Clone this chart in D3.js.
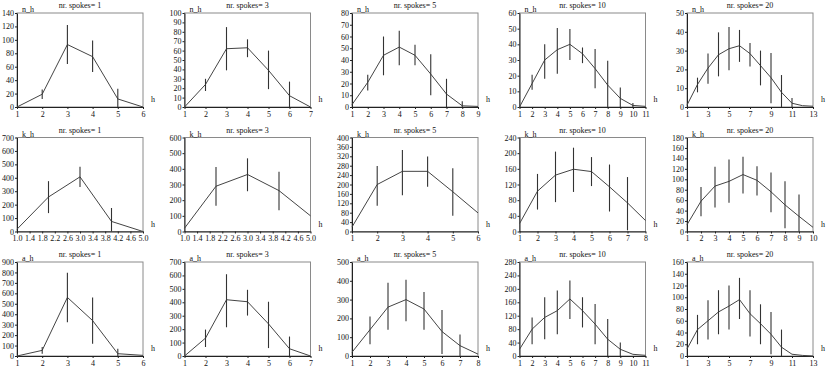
<!DOCTYPE html>
<html>
<head>
<meta charset="utf-8">
<script src="https://cdn.jsdelivr.net/npm/d3@7"></script>
<style>
  body { margin: 0; background: #fff; }
  text { font-family: "Liberation Serif", "DejaVu Serif", serif; }
</style>
</head>
<body>
<div id="chart"></div>
<script>
// panels: 3 variables (rows) x 5 spoke counts (columns)
const spokes = [1, 3, 5, 10, 20];
const varNames = ["n_h", "k_h", "a_h"];

// axis ranges per row / column
const yMaxes = [[140, 100, 80, 60, 50], [700, 600, 400, 240, 180], [900, 700, 500, 280, 160]];
const yTickSteps = [[20, 10, 10, 10, 10], [100, 100, 40, 40, 20], [100, 100, 100, 40, 20]];
const xMaxes = [[6, 7, 9, 11, 13], [5, 5, 6, 8, 10], [6, 7, 8, 11, 13]];
const xTickSteps = [[1, 1, 1, 1, 2], [0.4, 0.4, 1, 1, 1], [1, 1, 1, 1, 2]];

// mean values at h = 1, 2, 3 ...
const nMean = [
  [0, 19, 93, 75, 12, 0],
  [0, 24, 62, 63, 39, 12, 0],
  [2, 21, 44, 51, 44, 28, 11, 1, 0.5],
  [0, 15, 30, 36.6, 40, 34, 24.5, 14, 5.5, 1, 0.4],
  [1, 12, 20.7, 27.8, 31, 32.6, 28.4, 22, 15.6, 7.8, 2, 0.7, 0.4]
];
const nLo = [
  [null, 12, 64, 52, 0, null],
  [null, 17, 39, 53, 19, 0, null],
  [null, 14, 27, 35.5, 35.5, 10, 0, 0, null],
  [null, 11, 18, 21.3, 30, 28, 12, 0, 0, 0, null],
  [null, 7.8, 12.4, 16.3, 19.5, 24, 21.6, 11.5, 2, 0, 0, null, null]
];
const nHi = [
  [null, 26, 122, 99, 27, null],
  [null, 30, 85, 72, 60, 27, null],
  [null, 27.5, 60, 65, 53, 45, 24, 5, null],
  [null, 20.6, 40, 50.4, 49.8, 38, 37, 29.6, 12.5, 2.5, null],
  [null, 15.6, 28.4, 39.7, 42.5, 41, 34, 30, 28.7, 17, 4.8, null, null]
];

const kMean = [
  [17, 257, 407, 75, 0],
  [21, 289, 364, 261, 100],
  [19, 200, 256, 256, 169, 79],
  [20, 103, 144, 159, 153, 114, 73, 28],
  [13, 58, 87, 96, 109, 98, 76, 51, 29, 8]
];
const kLo = [
  [null, 137, 332, 0, null],
  [null, 165, 257, 135, null],
  [null, 110, 154, 190, 67, null],
  [null, 56, 75, 101, 116, 51, 3, null],
  [null, 29, 46, 55, 73, 69, 37, 6, 0, null]
];
const kHi = [
  [null, 375, 482, 175, null],
  [null, 411, 467, 381, null],
  [null, 279, 347, 319, 269, null],
  [null, 147, 204, 214, 190, 171, 139, null],
  [null, 85, 124, 138, 143, 125, 113, 96, 71, null]
];

const aMean = [
  [0, 54, 561, 339, 22, 6],
  [0, 133, 419, 404, 239, 54, 0],
  [20, 140, 260, 300, 250, 130, 55, 10],
  [20, 80, 115, 135, 170, 135, 95, 50, 20, 5, 2],
  [12, 45, 60, 75, 85, 96, 72, 55, 37, 15, 3, 1, 0]
];
const aLo = [
  [null, 22, 323, 117, 0, null],
  [null, 67, 214, 301, 59, 0, null],
  [null, 63, 140, 185, 140, 10, 0, null],
  [null, 35, 50, 65, 110, 85, 35, 0, 0, null, null],
  [null, 20, 28, 37, 45, 63, 33, 20, 3, 0, null, null, null]
];
const aHi = [
  [null, 85, 798, 561, 70, null],
  [null, 197, 609, 493, 404, 145, null],
  [null, 210, 390, 405, 340, 245, 115, null],
  [null, 115, 175, 195, 225, 175, 155, 110, 40, null, null],
  [null, 70, 95, 112, 120, 133, 112, 88, 75, 45, null, null, null]
];

const means = [nMean, kMean, aMean];
const lows = [nLo, kLo, aLo];
const highs = [nHi, kHi, aHi];

// layout
const width = 830, height = 370;
const colX0 = 17, colStep = 167.5, plotW = 126;
const rowY0 = 13, rowStep = 124.5, plotH = 94;

const svg = d3.select("#chart").append("svg")
    .attr("width", width)
    .attr("height", height);

varNames.forEach((vname, r) => {
    spokes.forEach((sp, c) => {
        let g = svg.append("g")
            .attr("transform", `translate(${colX0 + c * colStep},${rowY0 + r * rowStep})`);

        let xMax = xMaxes[r][c], yMax = yMaxes[r][c];
        let x = d3.scaleLinear().domain([1, xMax]).range([0, plotW]);
        let y = d3.scaleLinear().domain([0, yMax]).range([plotH, 0]);

        // frame
        g.append("rect")
            .attr("width", plotW).attr("height", plotH)
            .attr("fill", "none").attr("stroke", "#8a8a8a").attr("stroke-width", 1);

        let yStep = yTickSteps[r][c];
        let yAxis = d3.axisLeft(y)
            .tickValues(d3.range(0, yMax + yStep / 2, yStep))
            .tickFormat(d3.format("d"))
            .tickSize(2).tickSizeOuter(0).tickPadding(1);
        let ya = g.append("g").call(yAxis);

        let xStep = xTickSteps[r][c];
        let xAxis = d3.axisBottom(x)
            .tickValues(d3.range(1, xMax + xStep / 2, xStep))
            .tickFormat(xStep < 1 ? d3.format(".1f") : d3.format("d"))
            .tickSize(2).tickSizeOuter(0).tickPadding(2);
        let xa = g.append("g").attr("transform", `translate(0,${plotH})`).call(xAxis);

        [ya, xa].forEach(a => {
            a.select(".domain").attr("stroke", "#222");
            a.selectAll("line").attr("stroke", "#222");
            a.selectAll("text").attr("font-size", 8).attr("fill", "#111")
                .style("font-family", "'Liberation Serif', serif");
        });

        let pts = means[r][c].map((v, i) => ({h: i + 1, v: v, lo: lows[r][c][i], hi: highs[r][c][i]}));

        // mean line
        g.append("path")
            .datum(pts)
            .attr("fill", "none")
            .attr("stroke", "#444")
            .attr("stroke-width", 1)
            .attr("d", d3.line().x(d => x(d.h)).y(d => y(d.v)));

        // error bars
        g.selectAll("line.err")
            .data(pts.filter(d => d.lo !== null))
            .enter()
            .append("line")
            .attr("class", "err")
            .attr("x1", d => x(d.h)).attr("x2", d => x(d.h))
            .attr("y1", d => y(d.lo)).attr("y2", d => y(d.hi))
            .attr("stroke", "#333")
            .attr("stroke-width", 1.1);

        // title
        g.append("text")
            .attr("x", plotW / 2).attr("y", -5)
            .attr("text-anchor", "middle")
            .attr("font-size", 8)
            .attr("fill", "#111")
            .text("nr. spokes= " + sp);

        // y label
        g.append("text")
            .attr("x", 5).attr("y", -1)
            .attr("font-size", 8)
            .attr("fill", "#111")
            .text(vname);

        // x label
        g.append("text")
            .attr("x", plotW + 8).attr("y", plotH - 5)
            .attr("font-size", 8)
            .attr("fill", "#111")
            .text("h");
    });
});
</script>
</body>
</html>
